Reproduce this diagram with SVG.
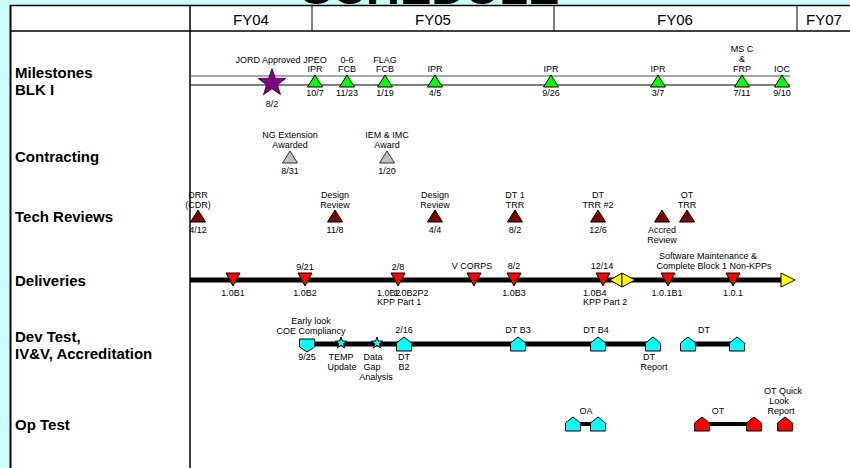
<svg xmlns="http://www.w3.org/2000/svg" width="850" height="468" viewBox="0 0 850 468">
<style>
text{font-family:"Liberation Sans",Arial,sans-serif;fill:#000}
.t{font-size:9px;text-anchor:middle}
.ts{font-size:9px}
.row{font-size:15px;font-weight:bold}
.fy{font-size:15px;text-anchor:middle}
.title{font-size:47px;font-weight:bold;text-anchor:middle}
.grn{fill:#00FF00;stroke:#000;stroke-width:1}
.gry{fill:#C0C0C0;stroke:#333;stroke-width:1}
.drd{fill:#800000;stroke:#000;stroke-width:1}
.red{fill:#FF0000;stroke:#000;stroke-width:1}
.yel{fill:#FFFF00;stroke:#000;stroke-width:1}
.cyn{fill:#00FFFF;stroke:#000;stroke-width:1}
.pur{fill:#800080;stroke:#300030;stroke-width:0.8}
.thin{stroke:#000;stroke-width:1.2;fill:none}
.thick{stroke:#000;stroke-width:5;fill:none}
.bar{stroke:#000;stroke-width:4;fill:none}
</style>
<defs>
<path id="triUp" d="M0,0 L7.5,12 L-7.5,12 Z"/>
<path id="triDn" d="M-7,0 L7,0 L0,13 Z"/>
<path id="houseUp" d="M0,0 L7.5,6 L7.5,14 L-7.5,14 L-7.5,6 Z"/>
<path id="houseDn" d="M-7.5,0 L7.5,0 L7.5,8 L0,13 L-7.5,8 Z"/>
<polygon id="starS" points="0,-6 1.41,-1.94 5.71,-1.85 2.28,0.74 3.53,4.85 0,2.4 -3.53,4.85 -2.28,0.74 -5.71,-1.85 -1.41,-1.94"/>
</defs>
<rect x="0" y="0" width="850" height="468" fill="#CCFFFF"/>
<text class="title" x="430" y="3.5">SCHEDULE</text>
<g id="table">
<rect x="10" y="5" width="840" height="463" fill="#FFFFFF"/>
<line x1="10" y1="5.5" x2="850" y2="5.5" stroke="#000" stroke-width="1.5"/>
<line x1="10.5" y1="5" x2="10.5" y2="468" stroke="#000" stroke-width="2"/>
<line x1="10" y1="31" x2="850" y2="31" stroke="#000" stroke-width="1.5"/>
<line x1="190" y1="5" x2="190" y2="468" stroke="#000" stroke-width="1.5"/>
<line x1="312" y1="5" x2="312" y2="31" stroke="#000" stroke-width="1"/>
<line x1="554" y1="5" x2="554" y2="31" stroke="#000" stroke-width="1"/>
<line x1="797" y1="5" x2="797" y2="31" stroke="#000" stroke-width="1"/>
<text class="fy" x="251" y="25">FY04</text>
<text class="fy" x="433" y="25">FY05</text>
<text class="fy" x="675" y="25">FY06</text>
<text class="fy" x="824" y="25">FY07</text>
<text class="row" x="15" y="78">Milestones</text>
<text class="row" x="15" y="95">BLK I</text>
<text class="row" x="15" y="162">Contracting</text>
<text class="row" x="15" y="222">Tech Reviews</text>
<text class="row" x="15" y="286">Deliveries</text>
<text class="row" x="15" y="342">Dev Test,</text>
<text class="row" x="15" y="359">IV&amp;V, Accreditation</text>
<text class="row" x="15" y="430">Op Test</text>
</g>
<g id="connectors">
<line x1="190" y1="76" x2="790" y2="76" stroke="#555" stroke-width="1.2"/>
<line x1="190" y1="85" x2="790" y2="85" class="thin"/>
<line x1="190" y1="280" x2="783" y2="280" class="thick"/>
<line x1="307" y1="344" x2="653" y2="344" class="thick"/>
<line x1="688" y1="344" x2="737" y2="344" class="thick"/>
<line x1="573" y1="424" x2="598" y2="424" class="bar"/>
<line x1="702" y1="424" x2="754" y2="424" class="bar"/>
</g>
<g id="ms-jord">
<polygon class="pur" transform="translate(272,83)" points="0,-14.5 3.41,-4.69 13.79,-4.48 5.52,1.79 8.52,11.73 0,5.8 -8.52,11.73 -5.52,1.79 -13.79,-4.48 -3.41,-4.69"/>
<text class="t" x="268" y="63">JORD Approved</text>
<text class="t" x="272" y="107">8/2</text>
</g>
<g id="ms-jpeo"><use href="#triUp" class="grn" x="315" y="75"/><text class="t" x="315" y="63">JPEO</text><text class="t" x="315" y="72">IPR</text><text class="t" x="315" y="96">10/7</text></g>
<g id="ms-06"><use href="#triUp" class="grn" x="347" y="75"/><text class="t" x="347" y="63">0-6</text><text class="t" x="347" y="72">FCB</text><text class="t" x="347" y="96">11/23</text></g>
<g id="ms-flag"><use href="#triUp" class="grn" x="385" y="75"/><text class="t" x="385" y="63">FLAG</text><text class="t" x="385" y="72">FCB</text><text class="t" x="385" y="96">1/19</text></g>
<g id="ms-ipr1"><use href="#triUp" class="grn" x="435" y="75"/><text class="t" x="435" y="72">IPR</text><text class="t" x="435" y="96">4/5</text></g>
<g id="ms-ipr2"><use href="#triUp" class="grn" x="551" y="75"/><text class="t" x="551" y="72">IPR</text><text class="t" x="551" y="96">9/26</text></g>
<g id="ms-ipr3"><use href="#triUp" class="grn" x="658" y="75"/><text class="t" x="658" y="72">IPR</text><text class="t" x="658" y="96">3/7</text></g>
<g id="ms-msc"><use href="#triUp" class="grn" x="742" y="75"/><text class="t" x="742" y="52">MS C</text><text class="t" x="742" y="62">&amp;</text><text class="t" x="742" y="72">FRP</text><text class="t" x="742" y="96">7/11</text></g>
<g id="ms-ioc"><use href="#triUp" class="grn" x="782" y="75"/><text class="t" x="782" y="72">IOC</text><text class="t" x="782" y="96">9/10</text></g>
<g id="ct-ng"><use href="#triUp" class="gry" x="290" y="151"/><text class="t" x="290" y="138">NG Extension</text><text class="t" x="290" y="148">Awarded</text><text class="t" x="290" y="174">8/31</text></g>
<g id="ct-iem"><use href="#triUp" class="gry" x="387" y="151"/><text class="t" x="387" y="138">IEM &amp; IMC</text><text class="t" x="387" y="148">Award</text><text class="t" x="387" y="174">1/20</text></g>
<g id="tr-drr"><use href="#triUp" class="drd" x="198" y="210"/><text class="t" x="198" y="198">DRR</text><text class="t" x="198" y="208">(CDR)</text><text class="t" x="198" y="233">4/12</text></g>
<g id="tr-dr1"><use href="#triUp" class="drd" x="335" y="210"/><text class="t" x="335" y="198">Design</text><text class="t" x="335" y="208">Review</text><text class="t" x="335" y="233">11/8</text></g>
<g id="tr-dr2"><use href="#triUp" class="drd" x="435" y="210"/><text class="t" x="435" y="198">Design</text><text class="t" x="435" y="208">Review</text><text class="t" x="435" y="233">4/4</text></g>
<g id="tr-dt1"><use href="#triUp" class="drd" x="515" y="210"/><text class="t" x="515" y="198">DT 1</text><text class="t" x="515" y="208">TRR</text><text class="t" x="515" y="233">8/2</text></g>
<g id="tr-dt2"><use href="#triUp" class="drd" x="598" y="210"/><text class="t" x="598" y="198">DT</text><text class="t" x="598" y="208">TRR #2</text><text class="t" x="598" y="233">12/6</text></g>
<g id="tr-accred"><use href="#triUp" class="drd" x="662" y="210"/><text class="t" x="662" y="233">Accred</text><text class="t" x="662" y="243">Review</text></g>
<g id="tr-ot"><use href="#triUp" class="drd" x="687" y="210"/><text class="t" x="687" y="198">OT</text><text class="t" x="687" y="208">TRR</text></g>
<g id="dl-b1"><use href="#triDn" class="red" x="233" y="273"/><text class="t" x="233" y="296">1.0B1</text></g>
<g id="dl-b2"><use href="#triDn" class="red" x="305" y="273"/><text class="t" x="305" y="270">9/21</text><text class="t" x="305" y="296">1.0B2</text></g>
<g id="dl-b2p"><use href="#triDn" class="red" x="398" y="273"/><text class="t" x="398" y="270">2/8</text><text class="ts" x="377" y="296">1.0B2</text><text class="ts" x="394" y="296">1.0B2P2</text><text class="ts" x="377" y="305">KPP Part 1</text></g>
<g id="dl-vcorps"><use href="#triDn" class="red" x="474" y="273"/><text class="t" x="472" y="269">V CORPS</text></g>
<g id="dl-b3"><use href="#triDn" class="red" x="514" y="273"/><text class="t" x="514" y="269">8/2</text><text class="t" x="514" y="296">1.0B3</text></g>
<g id="dl-b4"><use href="#triDn" class="red" x="603" y="273"/><text class="t" x="602" y="269">12/14</text><text class="ts" x="583" y="296">1.0B4</text><text class="ts" x="583" y="305">KPP Part 2</text></g>
<g id="dl-diamond"><path class="yel" d="M622,273 L622,287 L610,280 Z"/><path class="yel" d="M622,273 L635,280 L622,287 Z"/></g>
<g id="dl-101b1"><use href="#triDn" class="red" x="668" y="273"/><text class="t" x="667" y="296">1.0.1B1</text></g>
<g id="dl-101"><use href="#triDn" class="red" x="733" y="273"/><text class="t" x="733" y="296">1.0.1</text></g>
<g id="dl-sw"><text class="t" x="708" y="259">Software Maintenance &amp;</text><text class="t" x="714" y="269">Complete Block 1 Non-KPPs</text></g>
<g id="dl-end"><path class="yel" d="M781,273 L795,280 L781,287 Z"/></g>
<g id="dv-coe"><use href="#houseDn" class="cyn" x="307" y="339"/><text class="t" x="311" y="324">Early look</text><text class="t" x="311" y="334">COE Compliancy</text><text class="t" x="307" y="360">9/25</text></g>
<g id="dv-temp"><use href="#starS" class="cyn" x="341" y="343"/><text class="t" x="341" y="360">TEMP</text><text class="t" x="342" y="370">Update</text></g>
<g id="dv-data"><use href="#starS" class="cyn" x="377" y="343"/><text class="t" x="373" y="360">Data</text><text class="t" x="372" y="370">Gap</text><text class="t" x="376" y="380">Analysis</text></g>
<g id="dv-b2"><use href="#houseUp" class="cyn" x="404" y="337"/><text class="t" x="404" y="333">2/16</text><text class="t" x="404" y="360">DT</text><text class="t" x="404" y="370">B2</text></g>
<g id="dv-b3"><use href="#houseUp" class="cyn" x="518" y="337"/><text class="t" x="518" y="333">DT B3</text></g>
<g id="dv-b4"><use href="#houseUp" class="cyn" x="598" y="337"/><text class="t" x="596" y="333">DT B4</text></g>
<g id="dv-report"><use href="#houseUp" class="cyn" x="653" y="337"/><text class="t" x="649" y="360">DT</text><text class="t" x="654" y="370">Report</text></g>
<g id="dv-dt"><use href="#houseUp" class="cyn" x="688" y="337"/><use href="#houseUp" class="cyn" x="737" y="337"/><text class="t" x="704" y="333">DT</text></g>
<g id="op-oa"><use href="#houseUp" class="cyn" x="573" y="417"/><use href="#houseUp" class="cyn" x="598" y="417"/><text class="t" x="586" y="414">OA</text></g>
<g id="op-ot"><use href="#houseUp" class="red" x="702" y="417"/><use href="#houseUp" class="red" x="754" y="417"/><text class="t" x="718" y="414">OT</text></g>
<g id="op-qlr"><use href="#houseUp" class="red" x="785" y="417"/><text class="t" x="783" y="394">OT Quick</text><text class="t" x="779" y="404">Look</text><text class="t" x="781" y="414">Report</text></g>
</svg>
